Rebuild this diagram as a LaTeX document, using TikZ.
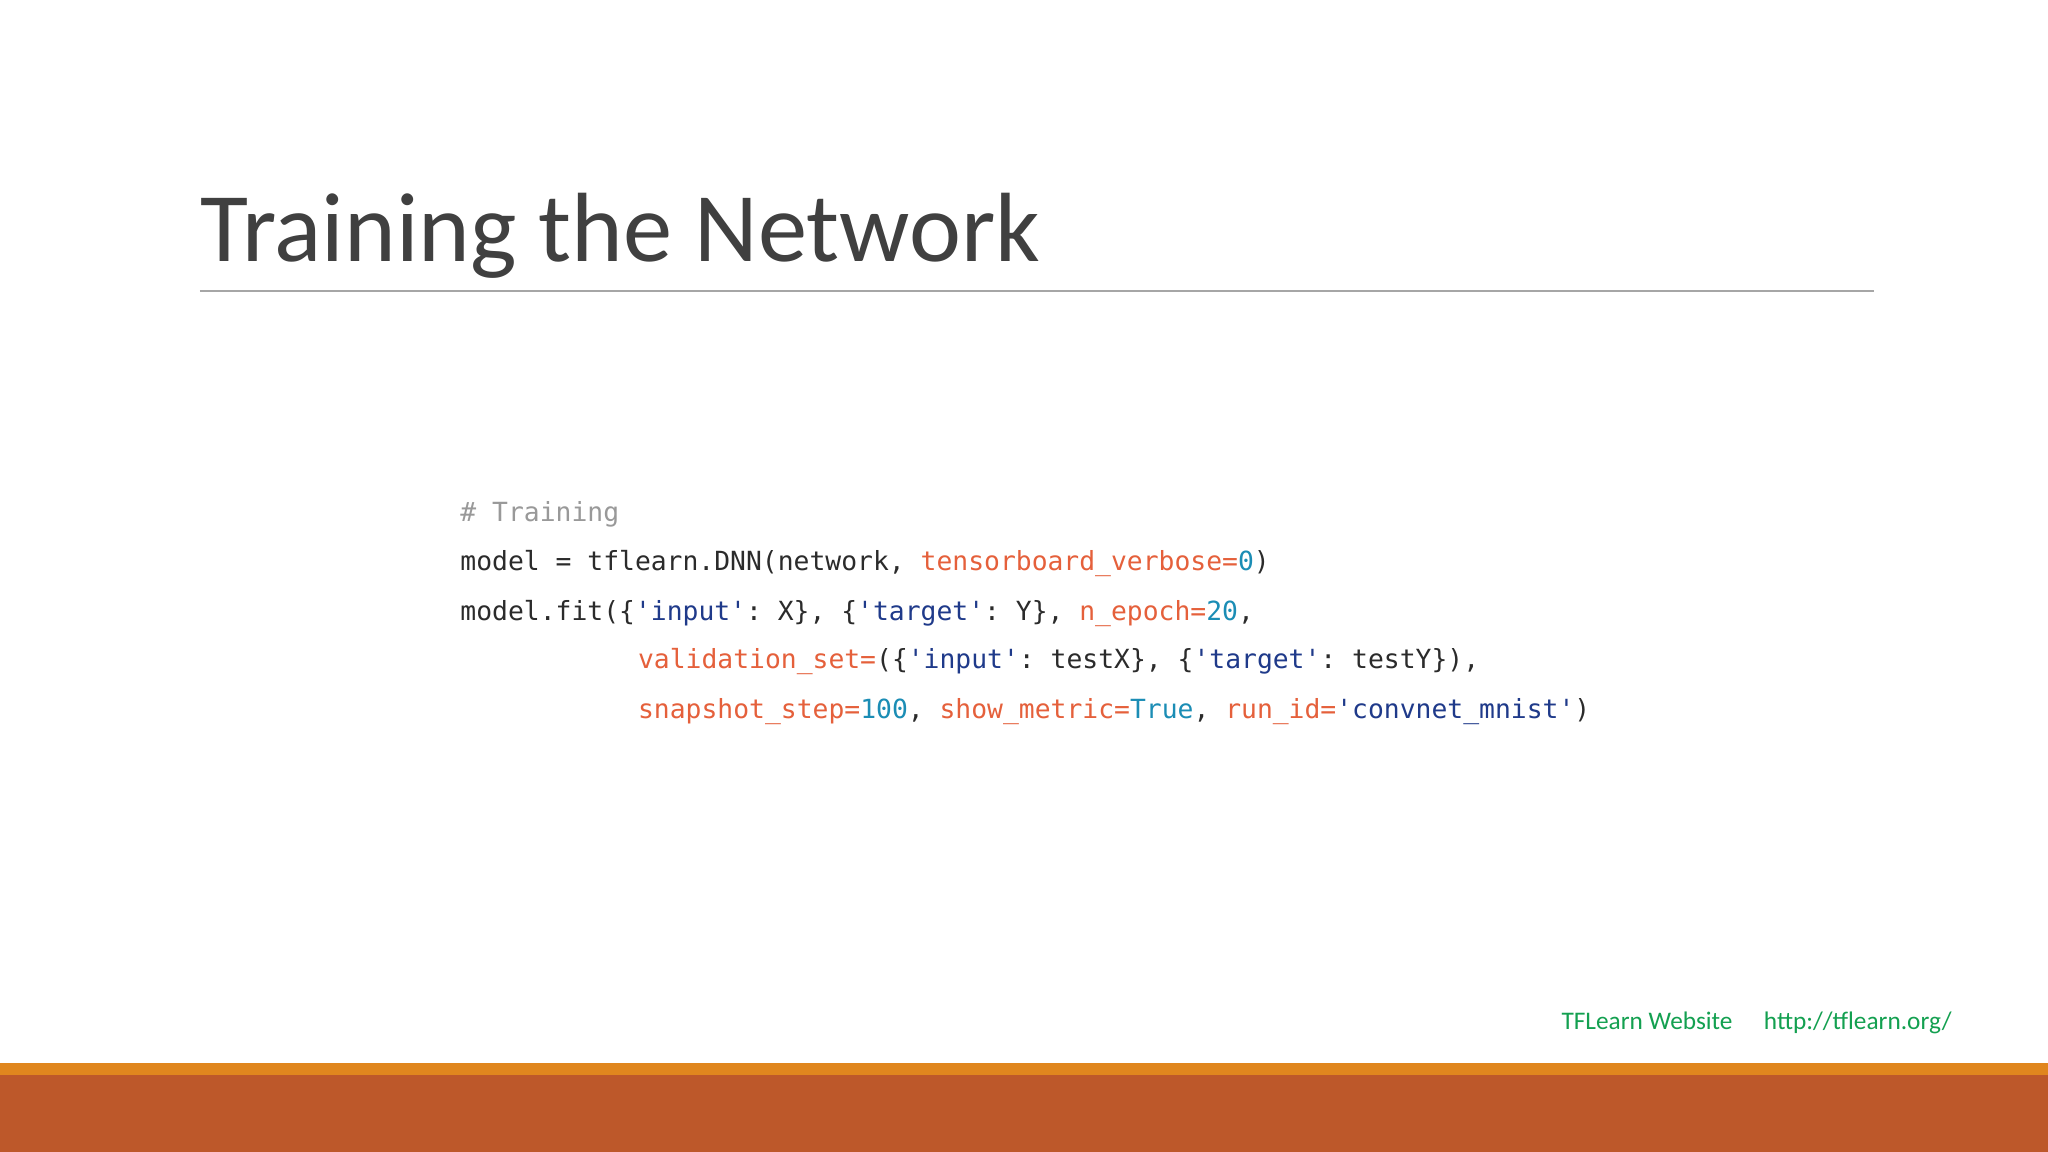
\documentclass[tikz,border=0pt]{standalone}
\usepackage{fontspec}
\setmainfont{Carlito}
\setmonofont{DejaVu Sans Mono}
\definecolor{kw}{HTML}{E5603B}
\definecolor{st}{HTML}{1F3A8A}
\definecolor{nm}{HTML}{1B8DB5}
\definecolor{cm}{HTML}{999999}
\definecolor{tx}{HTML}{2B2B2B}
\definecolor{ttl}{HTML}{404040}
\definecolor{grn}{HTML}{13A050}
\definecolor{bar1}{HTML}{E0861E}
\definecolor{bar2}{HTML}{BD582A}
\newcommand{\K}[1]{\textcolor{kw}{#1}}
\newcommand{\Ss}[1]{\textcolor{st}{#1}}
\newcommand{\Nn}[1]{\textcolor{nm}{#1}}
\begin{document}
\begin{tikzpicture}[x=0.013061cm,y=-0.013061cm,
  code/.style={anchor=base west,inner sep=0pt,font=\fontsize{7.5pt}{9pt}\ttfamily,text=tx}]
\useasboundingbox (0,0) rectangle (1568,882);
\fill[white] (0,0) rectangle (1568,882);
\node[anchor=base west,inner sep=0pt,text=ttl,font=\fontsize{28pt}{34pt}\selectfont] (title) at (153,200) {Training the Network};
\draw[gray!70,line width=0.5pt] (153,223) coordinate (l1) -- (1435,223) coordinate (l2);
\node[code,text=cm] (c1) at (352,399) {\# Training};
\node[code] (c2) at (352,437) {model = tflearn.DNN(network, \K{tensorboard\_verbose=}\Nn{0})};
\node[code] (c3) at (352,475) {model.fit(\{\Ss{'input'}: X\}, \{\Ss{'target'}: Y\}, \K{n\_epoch=}\Nn{20},};
\node[code] (c4) at (488,512) {\K{validation\_set=}(\{\Ss{'input'}: testX\}, \{\Ss{'target'}: testY\}),};
\node[code] (c5) at (488,550) {\K{snapshot\_step=}\Nn{100}, \K{show\_metric=}\Nn{True}, \K{run\_id=}\Ss{'convnet\_mnist'})};
\node[anchor=base west,inner sep=0pt,text=grn,font=\fontsize{7.2pt}{8pt}\selectfont] (f1) at (1195,788) {TFLearn Website};
\node[anchor=base west,inner sep=0pt,text=grn,font=\fontsize{7.2pt}{8pt}\selectfont] (f2) at (1350,788) {http://tflearn.org/};
\fill[bar1] (0,814) rectangle (1568,823);
\fill[bar2] (0,823) rectangle (1568,882);
\end{tikzpicture}
\end{document}
